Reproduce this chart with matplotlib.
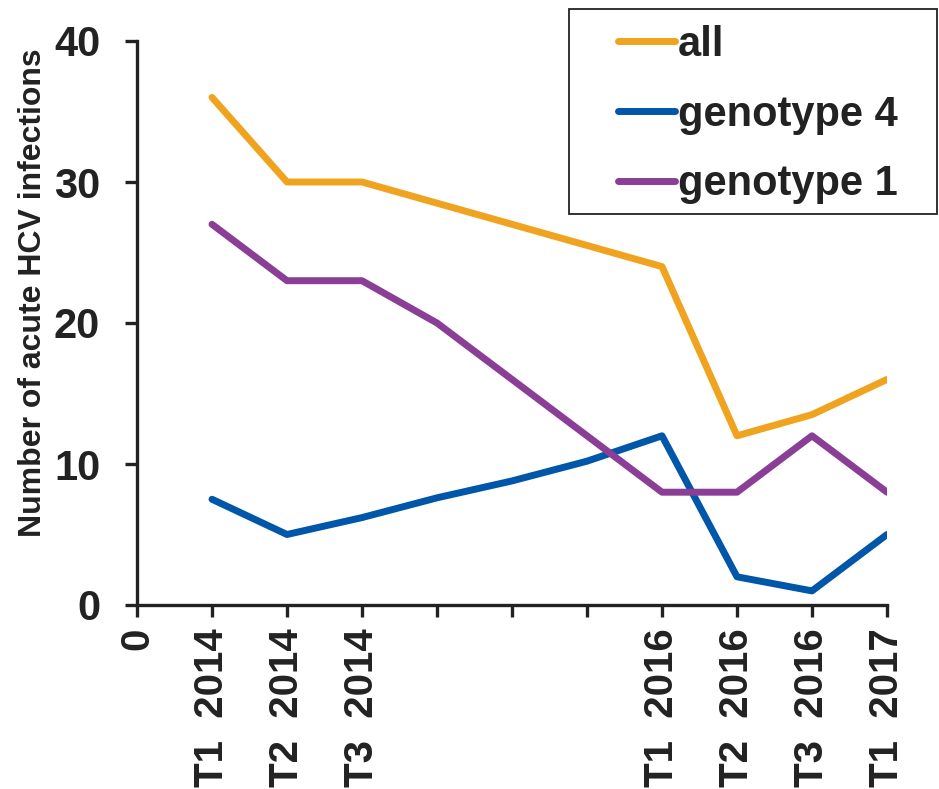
import matplotlib.pyplot as plt
from matplotlib.patches import Rectangle

# Trimester index on the x axis; only some positions carry a label
positions = [0, 1, 2, 3, 4, 5, 6, 7, 8, 9, 10]
tick_labels = ['0', 'T1  2014', 'T2  2014', 'T3  2014', '', '', '',
               'T1  2016', 'T2  2016', 'T3  2016', 'T1  2017']

x = [1, 2, 3, 4, 5, 6, 7, 8, 9, 10]
all_cases = [36, 30, 30, 28.5, 27, 25.5, 24, 12, 13.5, 16]
genotype4 = [7.5, 5, 6.2, 7.6, 8.8, 10.2, 12, 2, 1, 5]
genotype1 = [27, 23, 23, 20, 16, 12, 8, 8, 12, 8]

ink = '#222222'
plt.rcParams['font.family'] = 'Liberation Sans'
plt.rcParams['font.weight'] = 'bold'

fig = plt.figure(figsize=(9.39, 7.89), dpi=100)
ax = fig.add_axes([137 / 939, 184 / 789, 750 / 939, 564 / 789])

ax.plot(x, all_cases, color='#F0A31F', lw=5, label='all', solid_capstyle='round')
ax.plot(x, genotype4, color='#0056A8', lw=5, label='genotype 4', solid_capstyle='round')
ax.plot(x, genotype1, color='#8A3E96', lw=5, label='genotype 1', solid_capstyle='round')

ax.set_xlim(0, 10)
ax.set_ylim(0, 40)
ax.set_xticks(positions)
ax.set_xticklabels(tick_labels, rotation=90, fontsize=29, fontweight='bold', color=ink)
ax.set_yticks([0, 10, 20, 30, 40])
ax.set_yticklabels(['0', '10', '20', '30', '40'], fontsize=30, fontweight='bold', color=ink)
ax.tick_params(axis='both', direction='out', length=8.5, width=2.4, color=ink)
ax.tick_params(axis='x', pad=8)
ax.tick_params(axis='y', pad=18)

for side in ['top', 'right']:
    ax.spines[side].set_visible(False)
for side in ['left', 'bottom']:
    ax.spines[side].set_linewidth(2.4)
    ax.spines[side].set_color(ink)

ax.set_ylabel('Number of acute HCV infections', fontsize=23, fontweight='bold',
              color=ink, labelpad=4)
ax.yaxis.label.set_y(0.553)

# legend without its own frame; the box is drawn separately so it can be wider than the entries
leg = ax.legend(loc='upper left', bbox_to_anchor=(618 / 939, 1 - 25 / 789),
                bbox_transform=fig.transFigure, borderaxespad=0, borderpad=0,
                fontsize=30, handlelength=1.36, handletextpad=0.07,
                labelspacing=0.71, frameon=False)
for t in leg.get_texts():
    t.set_fontweight('bold')
    t.set_color(ink)

fig.patches.append(Rectangle((569 / 939, 1 - 214 / 789), 368 / 939, 205 / 789,
                             transform=fig.transFigure, fill=False,
                             edgecolor=ink, linewidth=1.3))

fig.savefig('out.png', dpi=100)
